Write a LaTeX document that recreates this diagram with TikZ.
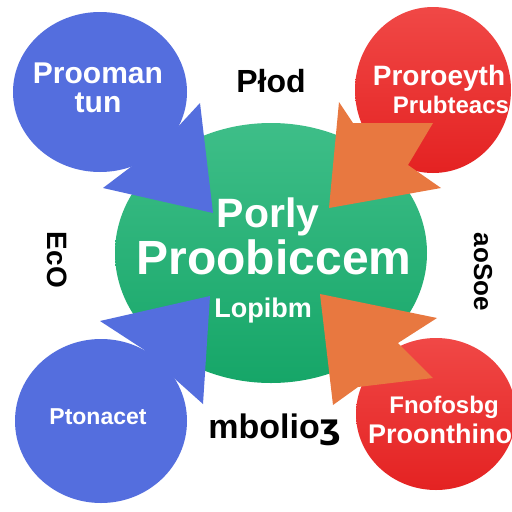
\documentclass[tikz,border=0pt]{standalone}
\usepackage{fontspec}
\setmainfont{Liberation Sans}
\newfontfamily\dejavu{DejaVu Sans}
\definecolor{bluec}{RGB}{84,110,222}
\definecolor{greentop}{RGB}{62,190,136}
\definecolor{greenbot}{RGB}{22,166,104}
\definecolor{redtop}{RGB}{240,72,70}
\definecolor{redbot}{RGB}{228,34,34}
\definecolor{orangec}{RGB}{232,120,64}
\newcommand{\fs}[1]{\bfseries\fontsize{#1}{#1}\selectfont}
\begin{document}
\begin{tikzpicture}[x=1pt,y=-1pt,
  wt/.style={text=white, inner sep=0pt, anchor=base},
  bk/.style={text=black, inner sep=0pt, anchor=base}]
\useasboundingbox (0,0) rectangle (512,512);
\fill[white] (0,0) rectangle (512,512);
% central green ellipse
\shade[top color=greentop,bottom color=greenbot] (271,253) ellipse [x radius=156, y radius=130];
% blue top-left
\fill[bluec] (100,92) ellipse [x radius=87, y radius=80];
\fill[bluec] (175,130) -- (200,103) -- (213,213) -- (103,188) -- (140,160) -- cycle;
% blue bottom-left
\fill[bluec] (101,421) ellipse [x radius=86, y radius=82];
\fill[bluec] (143,349) -- (100,321) -- (210,296) -- (203,404) -- (175,379) -- cycle;
% red circles
\shade[top color=redtop,bottom color=redbot] (433,90) ellipse [x radius=78, y radius=83];
\shade[top color=redtop,bottom color=redbot] (436,414) ellipse [x radius=80, y radius=76];
% orange arrows
\fill[orangec] (329,208) -- (339,102) -- (353,123) -- (433,123) -- (408,165) -- (441,188) -- cycle;
\fill[orangec] (320,294) -- (437,318) -- (398,343) -- (433,378) -- (358,387) -- (333,405) -- cycle;
% texts
\node[wt, font=\fs{30}] (tla) at (98,83) {Prooman};
\node[wt, font=\fs{30}] (tlb) at (98,112) {tun};
\node[bk, font=\fs{32}] (top) at (271,92) {Płod};
\node[wt, font=\fs{28}] (tra) at (439,85) {Proroeyth};
\node[wt, font=\fs{24}] (trb) at (451,113) {Prubteacs};
\node[wt, font=\fs{41}] (ga) at (268,227) {Porly};
\node[wt, font=\fs{48}] (gb) at (274,274) {Proobiccem};
\node[wt, font=\fs{27}] (gc) at (263,317) {Lopibm};
\node[wt, font=\fs{23}] (bla) at (98,424) {Ptonacet};
\node[bk, font=\fs{34}] (bot) at (275,438) {mbolio{\dejavu ʒ}};
\node[wt, font=\fs{24}] (bra) at (444,413) {Fnofosbg};
\node[wt, font=\fs{27}] (brb) at (440,443) {Proonthino};
\node[bk, font=\fs{28}, rotate=-90, anchor=center] (lv) at (57,260) {EcO};
\node[bk, font=\fs{26}, rotate=-90, anchor=center] (rv) at (483,272) {aoSoe};
\end{tikzpicture}
\end{document}
